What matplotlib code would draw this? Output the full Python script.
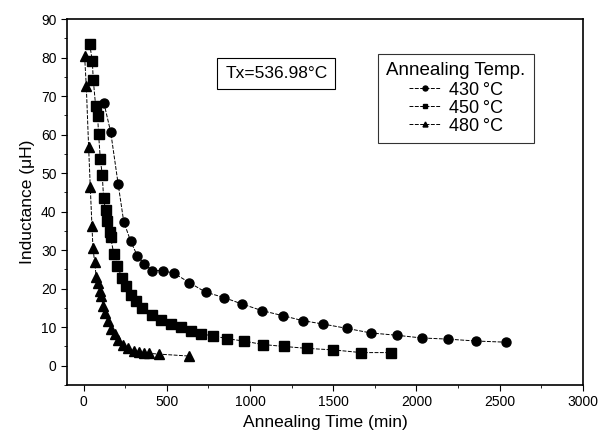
import matplotlib
matplotlib.use("Agg")
import matplotlib.pyplot as plt
from matplotlib.ticker import MultipleLocator

plt.rcParams['font.family'] = ['Liberation Sans', 'DejaVu Sans']

# annealing time (min) and inductance (uH) for each temperature
t430 = [122, 163, 207, 241, 283, 323, 363, 413, 474, 544, 634, 733, 843, 953,
        1072, 1196, 1317, 1441, 1581, 1726, 1882, 2032, 2189, 2360, 2540]
L430 = [68.2, 60.6, 47.3, 37.4, 32.3, 28.5, 26.5, 24.7, 24.7, 24.0, 21.6, 19.1,
        17.7, 16.0, 14.3, 13.0, 11.7, 10.8, 9.7, 8.5, 7.9, 7.2, 6.9, 6.4, 6.1]

t450 = [36, 52, 58, 72, 84, 90, 100, 112, 120, 132, 142, 156, 162, 182, 203,
        229, 255, 283, 313, 351, 413, 464, 524, 584, 644, 704, 775, 863, 963,
        1076, 1204, 1340, 1501, 1668, 1846]
L450 = [83.6, 79.2, 74.2, 67.5, 64.8, 60.1, 53.8, 49.5, 43.5, 40.3, 37.7, 34.7,
        33.4, 28.9, 25.9, 22.9, 20.8, 18.4, 16.8, 15.1, 13.2, 11.9, 10.8, 10.0,
        8.9, 8.2, 7.8, 7.0, 6.4, 5.5, 5.0, 4.5, 4.1, 3.4, 3.4]

t480 = [6, 16, 30, 40, 50, 56, 66, 76, 86, 96, 106, 116, 130, 146, 166, 187,
        207, 237, 267, 300, 330, 360, 395, 455, 635]
L480 = [80.3, 72.6, 56.8, 46.3, 36.4, 30.6, 27.0, 23.0, 21.4, 19.5, 18.2, 15.6,
        13.7, 11.5, 9.6, 8.1, 6.8, 5.5, 4.5, 3.8, 3.5, 3.3, 3.2, 3.0, 2.5]

series = [
    (t430, L430, 'o', '430\u2009°C'),
    (t450, L450, 's', '450\u2009°C'),
    (t480, L480, '^', '480\u2009°C'),
]

fig = plt.figure(figsize=(6.09, 4.44), dpi=100)
ax = fig.add_axes([0.110, 0.133, 0.847, 0.824])

for t, L, m, lab in series:
    ax.plot(t, L, color='black', linestyle=(0, (4, 1.5)), linewidth=0.7,
            marker=m, markersize=6.5, label=lab)

ax.set_xlim(-100, 3000)
ax.set_ylim(-5, 90)
ax.xaxis.set_major_locator(MultipleLocator(500))
ax.xaxis.set_minor_locator(MultipleLocator(250))
ax.yaxis.set_major_locator(MultipleLocator(10))
ax.yaxis.set_minor_locator(MultipleLocator(5))
ax.tick_params(which='both', direction='out', top=False, right=False, labelsize=10)
ax.tick_params(which='major', length=4)
ax.tick_params(which='minor', length=2.5)
for s in ax.spines.values():
    s.set_linewidth(1.2)

ax.set_xlabel('Annealing Time (min)', fontsize=12.5)
ax.set_ylabel('Inductance (μH)', fontsize=12.5)

ax.text(0.406, 0.852, 'Tx=536.98°C', transform=ax.transAxes, fontsize=12.5,
        ha='center', va='center',
        bbox=dict(boxstyle='square,pad=0.45', facecolor='white', edgecolor='black', linewidth=0.8))

leg = ax.legend(title='Annealing Temp.', loc='upper left', bbox_to_anchor=(0.603, 0.905),
                frameon=True, fancybox=False, edgecolor='black', fontsize=13,
                title_fontsize=13.5, markerscale=0.55, handlelength=1.8,
                handletextpad=0.4, borderpad=0.45, borderaxespad=0,
                labelspacing=0.05)
leg._legend_box.sep = 2
leg.get_frame().set_linewidth(0.8)

fig.savefig('out.png', dpi=100)
